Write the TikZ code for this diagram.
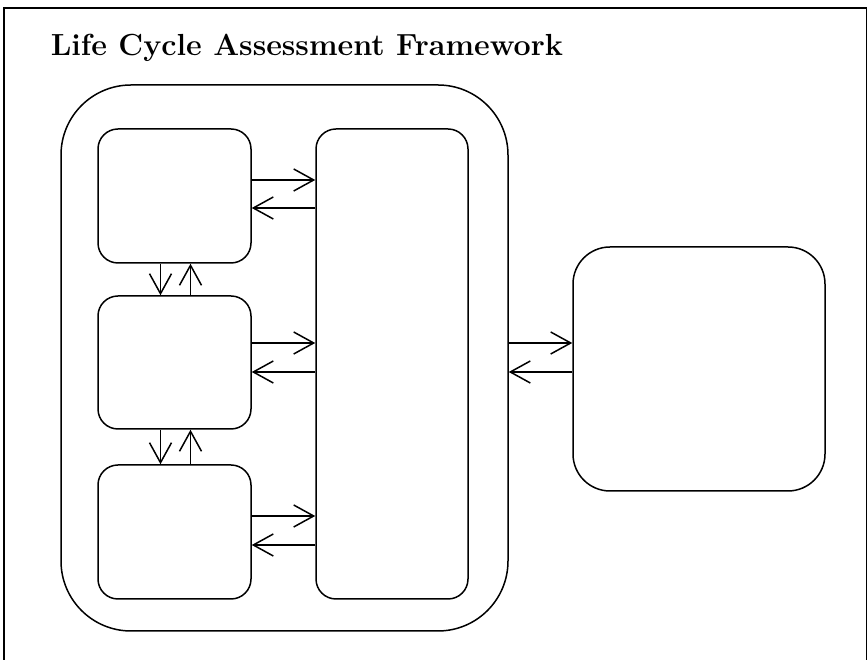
\documentclass[tikz,border=0pt]{standalone}
\usetikzlibrary{arrows.meta}
\begin{document}
\begin{tikzpicture}[
    x=1pt, y=1pt, line width=1.5pt,
    stage/.style={rectangle, draw, rounded corners=20pt, minimum width=153pt, minimum height=134pt},
    flow/.style={-{Straight Barb[length=20pt, width=22pt]}}
]
\useasboundingbox (0,0) rectangle (868,660);
\draw[line width=1.3pt] (4,-2) -- (4,652) -- (866.5,652) -- (866.5,-2);
\node[anchor=base west, inner sep=0pt, font=\fontsize{30.5}{36}\selectfont\bfseries] (title) at (50,604) {Life Cycle Assessment Framework};

\node[stage, rounded corners=70pt, minimum width=447pt, minimum height=546pt] (lca) at (284.5,302) {};
\node[stage] (goal) at (174.5,464) {};
\node[stage, minimum height=133pt] (inventory) at (174.5,297.5) {};
\node[stage] (impact) at (174.5,128) {};
\node[stage, minimum width=152pt, minimum height=470pt] (interp) at (392,296) {};
\node[stage, rounded corners=37pt, minimum width=252pt, minimum height=244pt] (appl) at (699,291) {};

% each phase talks to the interpretation column
\foreach \s/\a/\b in {goal/16/-12, inventory/19.5/-9.5, impact/16/-13} {
    \draw[flow] ([yshift=\a pt]\s.east) -- ([yshift=\a pt]\s.east -| interp.west);
    \draw[flow] ([yshift=\b pt]\s.east -| interp.west) -- ([yshift=\b pt]\s.east);
}

% phases stacked on the left
\foreach \u/\l in {goal/inventory, inventory/impact} {
    \draw[flow] ([xshift=-14pt]\u.south) -- ([xshift=-14pt]\u.south |- \l.north);
    \draw[flow] ([xshift=16pt]\l.north) -- ([xshift=16pt]\l.north |- \u.south);
}

\draw[flow] ([yshift=19.5pt]inventory.center -| lca.east) -- ([yshift=19.5pt]inventory.center -| appl.west);
\draw[flow] ([yshift=-9.5pt]inventory.center -| appl.west) -- ([yshift=-9.5pt]inventory.center -| lca.east);

\end{tikzpicture}
\end{document}
